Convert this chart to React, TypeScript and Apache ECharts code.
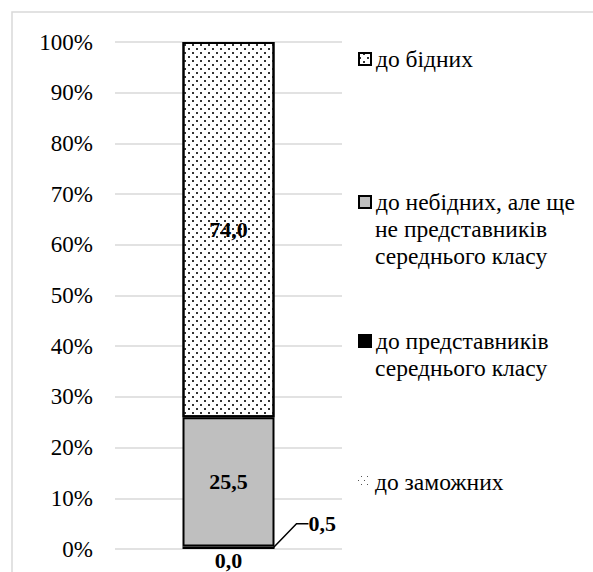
import React, { useEffect, useRef } from "react";
import * as echarts from "echarts";

const categories = ["Група"];
const seriesNames = [
  "до заможних",
  "до представників середнього класу",
  "до небідних, але ще не представників середнього класу",
  "до бідних",
];
const legendLines = [
  ["до заможних"],
  ["до представників", "середнього класу"],
  ["до небідних, але ще", "не представників", "середнього класу"],
  ["до бідних"],
];
const valuesRich = [0.0];
const valuesMiddle = [0.5];
const valuesNonPoor = [25.5];
const valuesPoor = [74.0];

const FONT = "Liberation Serif";
const FS_TICK = 23;
const FS_LEG = 23.5;
const FS_LBL = 22;
const LH = 27;

const fmt = (v: number) => v.toFixed(1).replace(".", ",");

export default function App() {
  const ref = useRef<HTMLDivElement>(null);
  useEffect(() => {
    if (!ref.current) return;
    const chart = echarts.init(ref.current, null, { renderer: "svg" });
    const labelBase = {
      show: true,
      fontFamily: FONT,
      fontSize: FS_LBL,
      fontWeight: "bold" as const,
      color: "#000",
      formatter: (p: any) => fmt(p.value),
    };
    const legendCenters = [482, 341, 202, 59];
    const legendFor = (idx: number) => ({
      show: true,
      orient: "vertical",
      left: 358,
      top: legendCenters[idx] - LH / 2,
      padding: 0,
      icon: "rect",
      itemWidth: 12,
      itemHeight: 12,
      itemGap: 0,
      selectedMode: false,
      data: [seriesNames[idx]],
      formatter: () => legendLines[idx][0],
      textStyle: {
        fontFamily: FONT,
        fontSize: FS_LEG,
        lineHeight: LH,
        color: "#000",
      },
    });
    const extraTexts: any[] = [];
    legendLines.forEach((lines, idx) => {
      lines.slice(1).forEach((t, j) => {
        extraTexts.push({
          type: "text",
          left: 375,
          top: legendCenters[idx] + (j + 1) * LH - LH / 2,
          style: {
            text: t,
            fontFamily: FONT,
            fontSize: FS_LEG,
            lineHeight: LH,
            fill: "#000",
          },
          silent: true,
        });
      });
    });
    const option: any = {
      animation: false,
      backgroundColor: "#fff",
      textStyle: { fontFamily: FONT, color: "#000" },
      graphic: [
        {
          type: "rect",
          shape: { x: 12, y: 12, width: 640, height: 640 },
          style: { fill: "none", stroke: "#d9d9d9", lineWidth: 1.5 },
          silent: true,
        },
        ...extraTexts,
      ],
      legend: [legendFor(3), legendFor(2), legendFor(1), legendFor(0)],
      grid: { left: 115, right: 251, top: 42, bottom: 23, containLabel: false },
      xAxis: {
        type: "category",
        data: categories,
        axisLine: { show: false },
        axisTick: { show: false },
        axisLabel: { show: false },
      },
      yAxis: {
        type: "value",
        min: 0,
        max: 100,
        interval: 10,
        axisLabel: {
          formatter: (v: number) => `${v}%`,
          fontFamily: FONT,
          fontSize: FS_TICK,
          color: "#000",
          margin: 22,
        },
        splitLine: { lineStyle: { color: "#d9d9d9", width: 1.5 } },
        axisLine: { show: false },
        axisTick: { show: false },
      },
      series: [
        {
          name: seriesNames[0],
          type: "bar",
          stack: "total",
          barWidth: 92,
          data: valuesRich,
          itemStyle: {
            color: "#fff",
            borderWidth: 0,
            decal: {
              symbol: "rect",
              symbolSize: 1,
              color: "#555",
              dashArrayX: [[1, 5], [0, 3, 1, 2]],
              dashArrayY: [1, 3],
            },
          },
          label: { ...labelBase, position: "bottom", distance: 0 },
        },
        {
          name: seriesNames[1],
          type: "bar",
          stack: "total",
          barWidth: 92,
          data: valuesMiddle,
          itemStyle: { color: "#000", borderColor: "#000", borderWidth: 2 },
          label: { ...labelBase, position: "right", distance: 4 },
          labelLayout: { dx: 30, dy: -24 },
          labelLine: {
            show: true,
            length2: 12,
            lineStyle: { color: "#000", width: 1.5 },
          },
        },
        {
          name: seriesNames[2],
          type: "bar",
          stack: "total",
          barWidth: 92,
          data: valuesNonPoor,
          itemStyle: { color: "#bfbfbf", borderColor: "#000", borderWidth: 2 },
          label: { ...labelBase, position: "inside" },
        },
        {
          name: seriesNames[3],
          type: "bar",
          stack: "total",
          barWidth: 92,
          data: valuesPoor,
          itemStyle: {
            color: "#fff",
            borderColor: "#000",
            borderWidth: 2,
            decal: {
              symbol: "rect",
              symbolSize: 1,
              color: "#333",
              dashArrayX: [[2, 6], [0, 4, 2, 2]],
              dashArrayY: [2, 2],
            },
          },
          label: { ...labelBase, position: "inside" },
        },
      ],
    };
    chart.setOption(option);
    return () => chart.dispose();
  }, []);
  return (
    <div
      ref={ref}
      style={{ position: "fixed", left: 0, top: 0, width: 593, height: 572 }}
    />
  );
}
